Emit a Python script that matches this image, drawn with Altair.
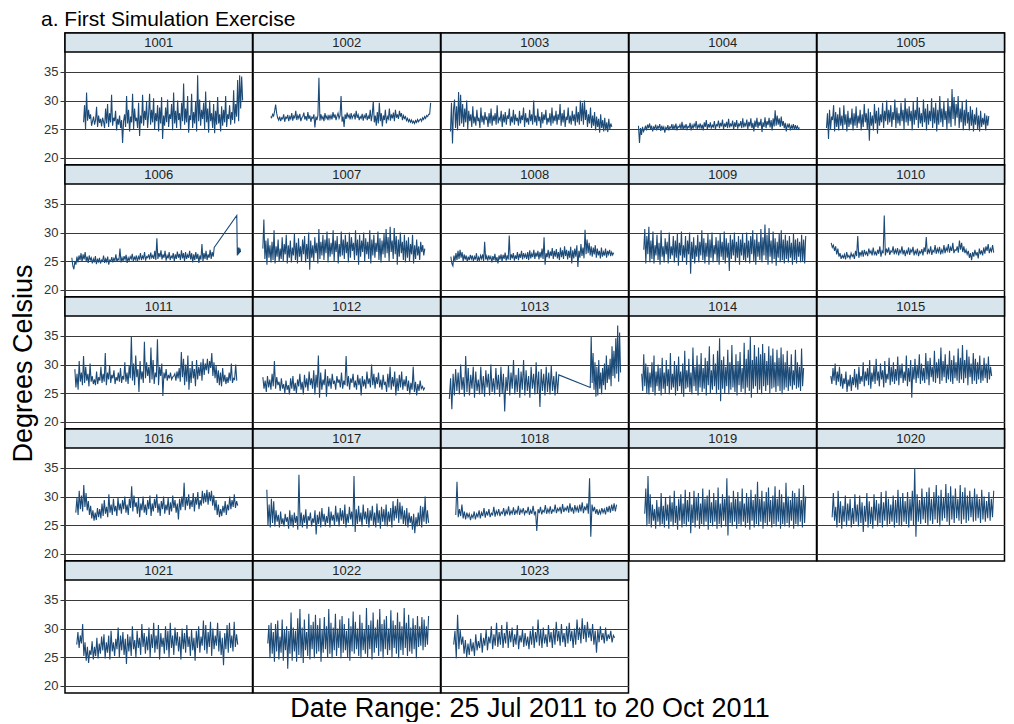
import altair as alt
import numpy as np
import pandas as pd

FONT = "Liberation Sans"
LINE = "#1d4b78"
STRIP = "#d8e5ec"
W = 187.5
H = 132
TICKS = [20, 25, 30, 35]

SENSORS = ["1001", "1002", "1003", "1004", "1005", "1006", "1007", "1008", "1009", "1010",
           "1011", "1012", "1013", "1014", "1015", "1016", "1017", "1018", "1019", "1020",
           "1021", "1022", "1023"]

T1001 = [26.2,29.2,25.0,31.4,26.5,28.4,26.8,27.6,25.6,26.4,27.2,25.8,26.6,28.9,25.4,27.4,26.1,26.8,25.5,27.0,
         26.3,25.2,28.6,26.0,29.4,25.4,27.8,26.2,31.0,25.6,27.0,26.4,28.2,24.8,26.8,25.8,27.4,25.2,26.6,22.6,
         26.4,27.6,25.4,30.8,26.0,28.4,24.6,27.2,26.2,31.2,25.0,28.6,26.4,27.0,25.2,29.6,23.8,27.4,26.0,31.0,
         25.6,28.2,26.6,29.8,25.2,27.6,31.2,25.8,28.4,26.2,30.4,25.0,27.8,26.4,29.2,24.6,28.8,26.0,30.6,23.3,
         27.4,25.6,28.8,26.2,30.2,25.4,27.6,26.8,29.4,24.8,31.4,26.0,28.2,25.2,30.0,26.6,27.8,25.0,29.6,26.4,
         33.0,25.8,28.6,26.2,30.8,24.4,27.4,26.6,31.2,25.2,28.0,26.0,29.8,24.6,34.4,26.4,30.2,25.6,28.4,26.8,
         29.6,25.0,31.6,26.2,28.6,24.4,30.0,26.4,27.8,25.2,29.4,24.3,28.2,25.8,30.6,26.0,27.6,24.6,29.0,25.6,
         28.4,26.2,30.8,25.4,27.6,26.8,29.2,25.8,28.0,26.6,31.8,26.0,29.4,27.2,33.6,26.4,34.4,28.6,34.2,30.0]
T1002 = [27.2,27.0,27.6,27.3,28.2,29.3,27.8,27.0,26.6,27.2,26.4,27.0,26.8,27.6,26.3,27.1,26.9,27.5,26.4,27.2,
         26.8,27.8,26.5,27.3,27.0,28.2,26.6,27.4,26.9,27.7,26.4,27.0,27.2,27.9,26.7,27.3,26.5,28.0,26.8,27.4,
         26.3,27.1,26.9,27.6,25.3,27.2,26.6,27.4,34.0,26.5,27.6,26.8,27.2,26.4,27.8,26.9,27.3,26.6,27.5,26.8,
         27.4,26.7,28.0,27.0,27.6,26.6,27.3,27.8,26.9,27.4,30.8,26.3,27.2,25.4,27.6,26.8,27.9,27.1,27.5,26.7,
         27.8,26.9,27.3,27.6,26.7,28.2,27.0,27.5,26.6,27.2,26.9,27.7,26.5,27.4,27.0,27.8,26.6,27.3,26.8,28.4,
         26.4,27.6,29.9,26.2,27.4,25.6,28.0,26.0,29.6,26.4,27.8,25.5,27.4,26.6,28.4,26.0,27.2,26.8,28.6,26.5,
         27.6,26.9,27.9,26.4,28.4,27.0,27.6,26.8,28.2,27.2,27.8,26.6,27.4,26.9,27.2,26.5,26.9,26.3,26.7,26.2,
         26.6,26.1,26.4,26.0,26.5,26.2,26.7,26.3,26.6,26.8,26.4,27.0,26.7,27.2,26.9,27.4,27.2,27.6,27.6,29.6]
T1003 = [24.6,29.6,22.5,28.4,30.2,25.2,29.0,24.8,31.5,25.6,31.0,26.0,29.4,25.4,28.6,26.2,30.0,25.0,28.2,26.4,
         27.6,25.4,29.0,26.0,27.2,25.6,28.4,26.4,27.0,25.2,28.8,26.2,27.4,25.8,28.0,26.6,27.2,25.4,27.8,26.0,
         28.6,25.6,27.4,26.4,27.8,25.8,29.2,26.0,27.0,26.6,28.2,25.4,27.6,26.2,28.0,25.8,27.4,26.8,28.6,25.6,
         27.2,26.2,28.4,25.8,27.6,26.4,27.0,25.6,28.2,26.0,27.4,26.6,28.8,25.4,27.8,26.2,27.0,25.8,28.4,26.4,
         27.6,25.8,30.0,26.2,27.4,25.6,28.6,26.4,27.2,25.2,28.0,26.0,27.6,26.6,28.4,25.8,27.0,26.2,27.8,25.6,
         28.8,26.0,27.4,26.4,28.2,25.8,27.6,26.6,29.4,25.6,27.8,26.2,28.4,25.4,27.2,26.6,28.8,26.0,27.4,25.8,
         28.2,26.4,27.6,25.6,29.0,26.2,28.0,25.8,30.0,26.4,29.6,25.8,30.0,26.6,28.4,25.4,27.6,26.0,28.8,25.2,
         27.4,25.6,28.0,24.8,27.2,25.4,26.8,24.4,27.6,25.2,26.6,24.6,27.0,24.8,26.2,24.5,26.8,25.0,26.0,25.4]
T1004 = [25.6,22.6,25.2,24.0,25.4,24.6,25.0,25.6,24.8,25.8,25.2,26.0,25.0,25.6,24.6,25.4,25.1,25.8,24.8,25.5,
         25.2,25.9,24.7,25.6,25.0,25.4,24.4,25.3,25.0,25.7,24.8,25.4,25.2,25.9,24.9,25.6,25.1,26.0,24.8,25.5,
         25.3,25.8,25.0,26.3,24.9,25.6,25.2,25.9,25.0,25.5,25.3,26.1,24.8,25.7,25.2,25.9,25.4,26.4,25.0,25.7,
         25.3,26.0,25.1,25.8,24.8,26.2,25.4,26.6,25.0,25.9,25.3,26.2,25.1,25.7,25.4,26.4,25.0,25.8,25.6,26.5,
         25.2,26.1,25.5,26.7,25.0,26.0,25.4,26.3,25.2,26.8,25.3,25.9,25.6,26.5,24.9,26.2,25.4,26.6,25.1,25.9,
         25.6,26.4,25.2,26.9,25.3,26.0,25.6,26.7,25.0,26.3,25.5,26.9,25.2,26.1,24.6,26.5,25.4,27.0,25.2,26.3,
         25.6,26.8,24.5,26.2,25.4,27.1,25.2,26.4,25.7,27.0,25.3,26.6,24.8,26.9,25.5,28.3,25.6,27.4,25.8,26.9,
         25.4,27.2,25.6,26.4,25.2,26.1,24.6,25.8,25.4,26.0,24.8,25.6,25.2,25.9,24.9,25.7,25.1,25.5,25.0,25.3]
T1005 = [25.2,27.8,23.3,28.4,25.0,27.2,26.6,29.2,24.6,28.0,25.4,27.6,24.8,28.8,25.6,27.4,25.0,29.2,25.8,27.6,
         24.6,28.2,25.4,27.0,25.8,28.6,24.8,27.8,25.6,29.0,25.2,27.4,26.0,28.4,24.8,27.6,25.4,29.4,26.2,27.8,
         25.0,28.6,23.0,28.0,25.6,27.4,24.8,29.4,26.0,28.2,24.2,28.8,25.6,27.6,26.2,29.6,25.2,28.2,26.4,30.0,
         25.8,28.4,26.2,29.2,25.4,28.0,26.6,30.2,25.2,28.8,26.0,27.8,25.6,29.6,26.4,28.4,25.0,30.4,26.2,28.6,
         25.6,29.0,26.4,28.2,24.8,29.8,25.8,28.4,26.6,30.6,25.2,28.8,26.0,27.8,25.4,30.2,26.2,28.6,24.8,29.4,
         25.8,28.2,26.4,30.4,25.2,28.8,26.0,29.6,24.6,28.4,25.8,30.8,26.2,28.6,25.4,29.8,26.6,28.2,25.0,30.4,
         26.0,29.0,25.4,32.0,26.8,30.6,25.6,29.4,27.0,30.8,25.2,28.6,26.2,29.8,24.8,28.4,25.6,30.2,26.0,28.0,
         24.8,29.0,25.6,28.4,24.6,27.6,25.8,28.8,25.0,27.4,24.6,28.2,25.4,27.0,25.8,27.8,24.8,27.4,25.6,27.3]
T1006A = [25.6,24.2,23.6,25.0,24.4,25.8,24.8,26.0,25.2,26.4,24.9,26.2,25.3,26.6,25.0,25.8,24.7,26.0,25.2,25.6,
          24.6,25.4,24.8,25.9,24.5,25.3,24.9,25.6,24.6,25.2,25.0,26.0,24.7,25.4,24.9,25.8,24.4,25.2,25.0,25.7,
          24.8,25.5,25.1,26.2,24.9,25.4,25.2,27.2,24.8,25.6,25.0,25.9,25.3,26.1,24.7,25.6,25.1,25.8,25.4,26.3,
          25.0,25.7,25.3,26.0,24.9,25.8,25.4,26.4,25.2,25.9,25.5,26.6,25.1,25.8,25.6,26.2,25.3,26.5,25.6,26.0,
          25.4,26.8,25.2,29.0,25.4,26.4,25.7,26.9,25.3,26.2,25.6,26.8,25.1,26.0,25.5,26.6,25.2,25.9,25.6,26.4,
          25.0,26.2,25.4,26.7,25.6,26.3,25.2,26.9,25.5,26.4,25.0,26.6,25.4,26.1,25.6,26.8,25.3,26.4,24.8,26.2,
          25.2,26.6,25.4,26.3,24.7,26.0,25.3,28.0,25.0,26.4,25.4,26.8,25.2,26.2,25.6,27.0,25.4,26.6,25.8,27.4]
T1006B = [33.0,26.0,27.4,26.2,27.4,26.4,27.2,26.6]
T1007 = [27.2,32.3,25.4,28.6,24.4,29.0,25.6,27.8,24.8,28.4,25.2,30.4,24.6,27.6,25.8,28.8,24.9,27.2,25.4,29.2,
         25.0,28.0,26.2,29.6,24.6,27.8,25.6,28.6,24.8,27.4,26.0,29.8,25.2,28.2,24.6,29.0,25.8,27.6,25.0,28.8,
         26.2,29.4,24.8,28.0,25.4,30.0,23.5,28.6,25.6,27.8,25.0,29.2,26.4,28.2,24.6,30.6,25.4,28.4,26.0,29.6,
         25.2,28.8,26.4,30.2,24.8,29.0,25.8,28.2,26.2,30.4,25.0,28.6,26.6,29.4,24.6,28.0,25.8,30.2,26.0,28.8,
         25.4,29.6,26.4,28.4,24.8,30.0,25.6,29.2,26.8,28.2,25.2,30.4,26.0,28.8,24.4,29.6,25.8,28.6,26.6,30.0,
         25.0,29.0,26.2,28.4,25.4,30.4,24.6,28.8,26.0,29.6,25.6,28.2,26.6,30.2,25.2,29.0,24.8,28.6,26.2,29.8,
         25.6,30.6,26.4,29.2,25.0,31.0,26.6,28.6,25.4,30.8,26.2,29.4,24.4,28.8,25.8,30.0,26.4,28.4,25.2,29.6,
         24.8,28.6,25.6,29.2,25.0,28.0,26.2,29.6,24.6,27.8,25.4,28.8,26.0,27.6,25.2,28.4,26.6,27.8,26.0,27.2]
T1008 = [25.8,24.6,24.2,26.0,25.0,26.4,25.2,26.8,25.4,27.0,25.6,26.6,25.0,26.2,25.3,26.0,24.9,25.8,25.2,26.1,
         25.4,26.0,25.0,25.8,25.3,26.4,24.9,25.7,25.2,26.0,25.4,26.2,25.0,28.4,25.3,25.9,25.1,26.0,25.4,25.8,
         24.8,25.9,25.2,26.3,25.0,25.7,24.6,26.0,25.3,26.2,25.0,26.1,25.4,26.5,25.1,26.0,25.3,29.5,25.2,26.2,
         25.5,26.4,25.1,26.0,25.4,26.6,25.2,26.3,25.6,26.8,25.3,26.4,25.7,26.2,25.4,26.6,25.2,26.9,25.5,26.3,
         25.7,27.0,25.4,26.5,25.8,26.8,25.3,26.6,25.6,27.2,25.4,29.2,24.4,26.4,25.7,27.0,25.5,26.7,25.9,27.3,
         25.4,26.8,25.8,27.1,25.5,26.6,25.2,27.4,25.7,26.9,25.4,27.6,25.9,27.0,25.3,26.8,25.6,27.5,24.6,26.9,
         25.5,27.2,25.8,27.8,24.0,26.8,25.6,28.0,25.9,27.4,25.5,30.5,26.2,28.8,26.4,28.2,26.0,27.6,25.8,27.4,
         26.2,27.8,25.6,27.2,26.0,26.8,25.5,27.4,25.8,26.6,26.0,27.2,25.6,26.8,26.2,27.0,25.9,26.6,26.1,26.5]
T1009 = [27.0,30.6,24.6,29.4,26.2,31.0,24.8,28.6,25.4,30.2,24.6,27.8,26.0,29.6,25.2,28.2,24.4,30.4,25.8,27.6,
         24.8,29.0,26.2,28.4,24.6,30.0,25.4,27.6,26.0,29.4,24.8,28.6,25.6,29.8,24.2,28.2,26.0,30.2,25.0,27.8,
         25.6,29.4,24.4,28.6,26.2,30.0,22.8,28.4,25.4,29.2,24.6,27.8,25.8,29.6,24.8,28.4,26.0,30.4,25.2,29.0,
         24.6,28.2,25.8,29.8,24.4,28.8,25.6,30.0,24.8,27.8,26.2,29.2,25.0,28.6,24.4,29.8,25.8,28.4,25.2,30.2,
         24.6,29.0,25.6,28.2,23.3,29.6,25.4,28.8,26.0,30.0,24.8,28.4,25.6,29.4,24.4,28.8,26.0,29.8,25.2,28.2,
         24.8,30.0,25.6,28.6,24.6,29.4,26.2,30.4,25.0,28.8,24.4,29.8,25.8,28.4,25.2,30.6,24.8,29.2,26.0,31.4,
         25.2,29.6,24.4,30.8,25.8,28.6,24.6,30.2,25.4,29.0,24.2,28.4,25.6,29.8,24.8,30.4,25.2,28.8,24.6,29.6,
         25.4,28.6,24.8,29.4,25.6,28.2,24.4,29.8,25.2,28.8,24.6,29.0,25.8,28.4,24.8,29.6,25.0,28.8,24.6,29.4]
T1010 = [28.2,27.4,27.8,26.8,27.6,26.2,27.2,25.8,26.4,25.4,26.0,25.6,26.2,25.3,26.6,25.7,26.0,25.5,26.4,25.8,
         26.2,25.4,26.8,25.9,29.4,25.6,26.6,26.0,26.9,25.8,27.0,26.2,26.6,25.9,27.2,26.4,26.8,26.0,27.4,26.2,
         26.6,26.0,27.0,26.3,27.6,25.8,26.8,26.4,33.0,26.0,27.2,26.5,27.4,26.1,26.8,26.6,27.6,26.2,27.0,26.4,
         27.3,26.0,26.9,26.5,27.6,26.2,27.0,25.9,26.8,26.4,27.4,26.1,27.0,26.6,27.5,26.0,26.8,26.3,27.2,25.9,
         26.7,26.4,27.1,26.0,27.4,26.6,29.2,26.2,27.0,26.5,27.6,26.1,26.9,26.6,27.8,26.3,27.2,26.6,27.5,26.2,
         27.0,26.5,27.8,26.4,27.3,26.8,28.0,26.5,27.4,26.8,28.2,26.4,27.0,26.9,27.6,26.5,28.6,27.0,28.2,26.6,
         27.6,26.4,27.0,26.2,26.8,25.6,26.4,25.2,26.6,25.8,27.0,26.0,26.6,25.5,27.2,26.2,26.9,26.0,27.4,26.3,
         27.6,26.8,28.0,26.4,27.2,26.7,27.8,26.5]
T1011 = [29.2,26.0,28.4,25.6,30.6,27.0,28.6,26.4,31.5,26.8,29.6,27.2,28.4,26.2,30.2,27.0,28.0,26.6,27.4,26.4,
         28.8,26.6,27.8,27.2,29.6,26.8,28.4,27.0,32.0,26.4,28.6,27.4,29.8,26.8,28.2,27.6,29.0,26.6,27.8,27.2,
         28.6,27.0,29.4,26.8,28.0,27.4,30.4,27.0,28.6,26.6,29.8,27.6,35.0,27.2,30.2,26.4,31.6,27.8,29.2,25.2,
         30.6,27.4,28.8,26.8,34.0,27.6,30.4,28.0,29.6,26.8,33.0,27.4,30.8,26.6,28.6,27.8,34.4,26.4,29.6,28.0,
         30.2,24.5,28.6,27.6,29.2,27.2,28.2,27.6,28.6,27.4,27.8,28.0,28.4,27.2,28.8,27.6,29.4,27.0,32.2,27.8,
         31.0,26.4,30.0,27.0,31.6,25.6,29.4,26.8,30.6,27.6,29.2,26.2,30.8,27.4,29.6,28.0,30.4,27.2,31.0,28.2,
         30.2,29.0,31.0,28.4,30.6,29.4,32.0,28.0,30.4,27.6,29.8,26.8,29.0,26.4,28.6,26.2,29.4,27.0,28.2,26.6,
         27.8,26.8,28.6,27.2,30.2,26.8,27.6,27.4,30.0,27.2]
T1012 = [27.8,25.8,27.2,25.2,28.0,26.0,27.4,25.6,28.4,26.2,30.6,25.8,27.8,26.4,27.0,25.4,27.6,25.8,26.6,25.0,
         27.2,25.6,26.4,24.8,27.6,25.8,28.0,25.4,26.8,25.0,27.4,26.2,28.4,25.6,27.0,24.8,28.2,26.0,27.6,25.4,
         28.8,26.4,27.6,25.8,29.0,24.8,28.2,26.0,31.6,24.2,28.6,25.6,27.4,26.4,29.2,24.4,28.0,26.2,27.6,25.8,
         28.4,26.6,27.2,25.6,28.0,26.8,27.4,26.0,28.6,25.8,27.2,26.4,31.5,26.2,28.0,25.6,27.6,26.8,28.4,26.0,
         27.2,25.6,28.2,26.4,27.6,24.6,28.0,26.2,27.4,25.8,28.8,26.6,27.6,26.0,30.0,26.4,28.4,25.8,27.8,26.6,
         28.6,26.0,27.4,25.6,28.2,26.4,27.0,25.2,28.4,26.0,29.6,25.6,27.8,26.2,28.8,24.6,27.6,25.4,28.2,26.0,
         28.8,25.6,27.4,26.2,28.0,25.4,27.2,24.8,26.8,25.6,29.6,25.2,27.0,24.6,26.6,25.4,27.2,25.8,26.2,25.6,
         26.0]
T1013A = [24.0,27.6,22.2,28.4,24.6,29.2,25.4,28.6,24.8,30.0,25.6,27.8,24.4,31.5,25.2,29.4,24.6,28.2,25.8,29.6,
          24.2,28.8,25.4,27.4,24.8,29.6,25.0,28.0,24.4,29.0,26.0,28.4,24.6,30.0,25.2,27.6,24.8,29.4,25.6,28.2,
          24.4,29.6,25.0,28.4,21.8,27.8,25.4,29.8,24.6,28.6,25.8,30.8,24.8,28.2,25.2,29.4,24.2,28.8,25.6,30.8,
          24.6,29.0,25.4,28.0,24.2,29.6,25.8,28.4,24.8,30.4,25.0,28.8,22.6,29.2,25.4,28.4,24.6,29.6,25.2,28.6,
          24.8,29.8,25.4,28.0,24.6,28.8,25.0,28.2]
T1013B = [26.0,35.0,26.8,32.0,25.6,30.4,24.4,29.6,24.6,30.8,25.8,28.6,24.8,29.4,26.4,30.2,25.6,31.6,26.8,29.8,
          27.4,31.0,26.2,33.2,28.0,32.4,27.6,34.6,28.4,36.8,27.0,35.6,28.6]
T1014 = [28.4,25.4,31.8,26.2,30.2,25.0,29.6,24.8,28.6,26.0,30.4,25.2,31.6,24.6,28.8,26.2,30.0,25.4,29.4,24.6,
         31.2,25.8,28.6,25.0,30.8,26.2,29.2,24.8,32.0,25.6,28.4,26.0,30.6,24.6,29.8,25.4,31.4,26.2,28.8,25.0,
         30.2,24.4,32.4,25.8,29.0,26.0,31.0,25.2,28.6,24.8,33.0,26.2,29.6,25.4,31.6,24.6,30.0,26.0,32.0,25.2,
         29.4,25.8,31.2,24.6,30.6,26.4,33.2,25.0,29.0,25.6,31.8,26.2,30.2,24.8,32.4,25.6,34.6,23.6,30.8,25.8,
         31.4,25.0,29.6,26.2,32.6,24.8,30.4,25.6,33.4,26.0,29.8,25.2,31.8,24.6,30.6,26.4,32.2,25.2,29.4,25.8,
         33.8,24.8,31.0,26.0,32.6,25.4,34.8,24.2,30.8,25.8,33.4,26.2,31.4,25.0,33.0,25.6,31.8,24.8,33.6,26.2,
         32.0,25.4,30.6,26.4,33.2,25.0,31.6,25.8,32.8,26.0,30.4,25.2,32.6,26.2,31.2,25.4,33.0,24.8,31.8,25.6,
         30.4,26.0,32.4,25.4,29.6,26.2,31.8,25.6,29.0,26.4,32.6,25.8,30.4,26.0,29.6,25.4,32.8,26.2,29.4]
T1015 = [28.0,26.6,29.4,27.2,30.2,26.4,28.8,27.0,29.6,26.2,28.4,25.8,27.6,26.6,28.8,25.2,27.4,26.2,28.2,25.4,
         27.8,26.4,29.2,26.0,28.4,25.6,29.6,26.6,28.0,27.0,30.4,26.2,28.8,27.2,29.4,26.4,30.8,25.8,28.6,27.0,
         29.8,26.6,31.0,27.2,28.8,26.2,30.2,27.4,29.0,26.0,30.6,26.8,28.4,27.4,31.2,26.4,29.6,27.0,30.4,26.6,
         29.2,27.2,31.4,26.4,29.8,27.6,30.2,26.8,28.8,27.2,31.6,26.2,29.4,27.0,30.8,24.2,29.6,27.4,31.0,26.8,
         29.8,27.6,31.8,26.6,30.2,27.2,29.4,26.8,32.0,27.4,30.6,26.4,31.2,27.8,29.6,27.0,32.4,26.8,30.4,27.6,
         31.0,26.6,33.0,27.2,30.6,27.8,31.8,26.8,30.0,27.4,32.4,27.0,30.8,26.6,31.6,27.6,30.4,27.2,32.8,26.8,
         31.2,27.4,33.4,26.8,30.8,27.6,32.6,26.4,31.4,27.8,30.2,26.6,32.0,27.2,31.0,26.6,30.4,27.4,31.6,26.8,
         29.8,27.2,31.2,27.6,30.2,26.8,31.4,27.4,29.6,28.0]
T1016 = [27.2,29.8,26.8,31.0,27.8,30.2,27.4,32.0,28.2,30.6,27.6,29.2,26.8,28.4,26.2,27.6,25.8,27.2,25.9,28.0,
         26.4,27.8,26.2,28.8,26.6,29.4,27.0,28.2,26.4,30.4,27.2,28.6,26.8,29.6,27.4,28.4,26.6,29.8,27.6,28.8,
         27.0,29.4,27.8,30.0,27.2,28.6,26.8,29.6,28.0,31.8,27.4,30.2,28.2,29.0,27.0,29.8,26.4,28.8,27.6,30.0,
         27.2,28.6,26.8,29.4,27.8,30.2,26.6,28.8,27.4,29.6,28.0,30.4,27.2,28.8,26.6,29.2,27.8,30.0,27.0,28.6,
         27.6,29.8,26.8,29.0,27.4,30.2,28.0,29.4,27.2,28.8,26.0,29.6,27.6,30.0,28.2,32.4,27.6,29.8,28.4,30.4,
         27.8,29.4,28.2,30.6,27.4,29.8,28.6,30.8,27.8,29.4,28.4,31.0,28.8,30.6,29.0,31.2,28.6,30.8,29.2,31.0,
         28.4,30.2,27.6,29.4,26.8,28.6,26.4,27.8,26.6,28.4,27.2,29.2,26.8,28.6,27.6,30.0,27.8,29.4,28.2,30.4,
         28.0,29.2,28.4]
T1017 = [31.2,25.0,28.6,24.6,29.6,25.4,29.2,24.8,27.6,25.6,26.8,24.6,27.4,25.2,26.2,24.8,27.0,25.6,26.4,24.4,
         27.6,25.0,26.8,24.6,27.2,25.4,26.6,24.2,33.8,25.0,27.2,24.6,26.8,25.4,27.8,24.4,26.6,25.8,27.2,24.8,
         26.2,25.4,27.6,23.4,26.8,25.2,27.4,24.6,28.0,25.6,27.0,24.8,26.6,25.4,28.2,24.6,27.4,25.8,26.8,25.0,
         28.4,25.6,27.2,24.8,28.0,25.8,27.6,25.2,28.6,24.6,27.0,25.4,28.2,26.0,27.4,24.8,33.6,23.8,27.8,25.2,
         28.4,25.6,27.2,24.8,28.6,26.0,27.4,25.2,28.0,24.6,27.6,25.8,28.4,25.0,27.2,24.6,28.8,25.4,27.6,24.4,
         28.2,25.6,27.8,25.0,28.6,24.8,27.4,25.6,28.0,24.6,29.2,25.8,28.4,26.2,29.6,25.4,29.0,26.0,28.4,25.2,
         27.6,25.0,28.0,24.6,27.2,25.4,26.6,24.2,27.0,23.6,26.4,24.8,27.2,25.0,28.4,24.6,28.2,25.6,30.0,25.2,
         27.6,25.4]
T1018 = [26.8,32.6,26.4,27.8,26.6,28.6,26.2,27.4,26.0,27.2,26.4,27.0,25.9,26.8,26.3,27.4,26.0,27.0,26.5,27.6,
         26.2,27.2,26.6,28.0,26.3,27.4,26.7,27.8,26.4,27.1,26.8,28.2,26.5,27.5,26.9,27.8,26.6,27.3,27.0,28.0,
         26.6,27.6,26.9,28.3,26.7,27.5,27.0,28.1,26.8,27.6,27.1,28.4,26.8,27.7,27.2,28.0,26.9,27.5,27.2,28.2,
         26.8,27.6,27.0,28.4,26.9,27.4,24.0,27.8,27.1,28.2,26.9,27.6,27.3,28.5,27.0,27.8,27.2,28.3,27.0,27.7,
         27.4,28.6,27.1,27.9,27.5,28.2,27.0,28.7,27.3,28.0,27.6,28.4,27.2,28.8,27.4,28.1,27.0,28.5,27.5,28.2,
         27.2,28.6,27.4,29.0,27.1,28.3,27.6,28.8,27.0,33.2,23.0,28.6,27.4,28.2,27.0,27.8,26.8,27.6,27.0,28.0,
         27.2,27.8,26.9,28.2,27.3,28.4,27.2,28.6,27.5,28.8,27.4,28.6]
T1019 = [27.0,31.4,24.8,33.6,25.2,30.4,24.6,28.6,25.8,27.8,24.4,29.4,25.6,28.2,24.8,30.6,25.2,28.4,24.6,29.8,
         25.8,28.6,24.4,30.2,25.6,29.0,24.8,31.0,25.4,28.4,24.2,29.6,25.8,30.4,24.6,28.8,25.2,31.2,24.8,29.4,
         25.6,30.8,23.6,28.6,25.4,31.0,24.6,29.8,25.8,30.6,24.4,28.8,25.2,31.4,24.8,29.6,25.6,30.2,24.2,31.2,
         25.4,29.0,24.8,30.6,25.6,29.4,24.4,31.6,25.2,28.8,24.6,30.4,25.8,29.6,24.8,33.2,23.2,30.2,25.4,29.0,
         24.8,31.0,25.6,29.6,24.4,30.8,25.2,29.2,24.8,31.4,25.6,28.8,24.6,30.6,25.4,29.8,24.2,31.2,25.8,29.4,
         24.6,30.4,25.2,32.6,24.8,29.6,25.6,31.0,24.4,29.2,25.4,30.8,24.8,31.6,25.6,29.4,24.6,30.2,25.2,31.8,
         24.8,29.6,25.6,31.2,24.4,30.4,25.2,29.0,24.8,32.4,25.4,30.0,24.6,29.4,25.8,31.0,24.4,30.6,25.2,29.8,
         24.8,31.4,25.6,29.4,24.6,32.0,25.4,30.0]
T1020 = [26.4,30.6,25.8,28.2,24.6,31.0,25.4,29.2,24.4,28.4,25.6,30.2,24.8,28.8,25.8,29.6,24.6,28.0,25.2,30.4,
         25.6,28.6,24.8,30.2,25.4,29.0,23.8,28.4,25.6,30.6,24.6,29.2,25.2,28.2,24.4,30.4,25.8,29.4,24.8,28.8,
         25.4,30.8,24.6,29.0,25.8,31.0,24.8,29.6,25.2,28.6,25.6,30.2,24.6,29.4,25.4,31.2,25.0,29.8,24.8,30.6,
         25.6,29.2,25.2,30.8,24.6,29.6,25.8,31.0,25.0,35.0,23.0,30.4,25.6,29.4,25.2,31.4,26.0,29.8,25.4,30.8,
         25.0,31.6,25.8,29.6,25.2,30.8,26.0,32.0,25.4,30.2,24.8,31.2,25.8,29.8,26.2,32.2,25.6,30.6,25.0,31.8,
         26.0,30.2,25.4,31.4,26.2,29.6,25.8,32.0,25.2,30.8,26.0,31.6,25.4,30.2,25.8,31.0,26.4,29.8,25.6,31.4,
         25.8,30.4,26.2,29.6,25.4,31.2,26.0,30.0,25.6,29.2,26.2,30.8,25.8,29.6,26.4,31.0]
T1021 = [27.2,29.4,26.6,28.8,27.4,30.8,25.2,27.6,24.4,26.8,24.0,26.2,25.4,27.8,24.6,26.8,25.2,28.4,24.8,27.4,
         25.6,28.6,26.2,29.0,24.8,27.6,25.8,28.8,24.6,29.6,26.0,27.6,25.2,28.2,26.4,30.2,25.0,28.8,26.2,29.4,
         25.4,28.2,23.8,29.0,26.0,28.6,25.2,30.4,26.4,28.0,25.0,29.6,26.6,28.4,25.4,30.8,26.8,29.2,25.6,28.6,
         26.2,30.2,25.0,29.0,26.6,31.0,25.8,28.8,26.4,30.6,24.6,29.2,26.8,28.4,25.6,30.4,26.2,29.6,25.0,31.0,
         26.6,28.8,25.4,30.2,27.0,29.4,26.0,28.6,24.6,30.0,26.4,29.2,25.8,30.6,26.8,28.6,25.2,29.8,26.2,28.4,
         24.4,29.6,26.6,30.4,25.8,28.6,27.0,31.4,26.2,30.6,25.6,29.4,26.8,31.2,25.2,30.0,26.4,28.8,27.0,31.0,
         26.0,29.6,25.4,28.4,23.6,29.2,26.4,30.6,25.8,31.0,26.6,28.8,26.0,31.2,26.8,29.0,27.2]
T1022 = [27.4,30.6,24.8,31.0,25.6,29.4,24.2,30.8,26.0,31.4,24.6,28.6,25.8,31.6,24.4,29.8,26.2,30.4,23.0,29.6,
         25.6,32.8,24.4,30.2,26.0,29.6,24.2,31.8,25.4,33.4,25.0,30.2,24.0,31.6,26.2,29.4,25.2,32.6,24.6,30.6,
         26.4,31.2,24.8,32.4,25.6,30.6,26.0,31.8,24.2,29.8,25.8,32.0,26.4,30.4,25.0,33.4,25.6,31.0,24.8,30.2,
         26.2,32.6,25.2,30.0,26.6,31.6,24.8,32.2,25.8,30.8,26.2,29.6,25.0,31.8,24.4,30.4,26.0,33.0,25.6,31.2,
         26.4,30.0,25.2,32.4,24.8,31.0,26.2,29.8,25.6,33.6,25.0,30.6,26.4,31.4,24.6,32.8,25.8,30.2,26.6,31.6,
         25.2,33.4,26.0,30.8,24.8,31.6,26.4,32.2,25.4,30.0,26.2,33.2,25.0,31.4,26.6,30.6,25.6,32.8,24.8,31.2,
         26.2,30.4,25.4,33.6,26.6,31.0,25.2,32.4,26.0,30.2,25.6,31.8,26.4,30.6,24.8,32.2,26.8,30.4,27.0,32.0,
         26.2,31.6,26.8,30.4,27.2,32.2]
T1023 = [27.2,29.6,24.8,32.4,26.4,29.8,27.2,28.6,25.6,28.0,25.0,27.4,25.4,28.2,26.0,27.6,25.2,29.0,26.2,27.8,
         26.6,29.2,25.8,28.4,27.0,29.8,26.2,28.6,27.4,30.4,26.4,29.0,27.0,31.0,26.8,29.4,27.2,30.6,26.6,29.2,
         27.4,31.2,26.6,29.6,27.6,30.2,26.8,29.0,27.2,30.6,26.4,28.8,27.6,29.8,26.8,29.2,27.0,28.6,26.4,29.6,
         27.2,30.4,26.6,29.4,27.6,31.6,27.0,29.8,26.6,30.2,27.4,29.0,26.8,30.6,27.6,29.4,26.6,30.0,27.2,31.2,
         27.8,29.6,27.0,30.8,27.6,29.2,26.8,30.4,27.4,31.0,27.8,29.6,26.6,30.0,27.2,31.6,28.0,30.2,27.4,31.8,
         28.2,30.6,27.6,31.2,28.4,30.0,27.8,30.8,27.2,29.6,25.8,29.8,27.6,30.4,28.0,29.2,27.4,30.2,27.8,29.0,
         28.2,29.6,27.6,28.8,28.4]

# recording windows (days after 25 Jul 2011) of each logger segment
SEGMENTS = {
    "1001": [(4.8, 88.8, T1001)], "1002": [(4.3, 88.8, T1002)], "1003": [(0.0, 85.2, T1003)],
    "1004": [(0.0, 85.0, T1004)], "1005": [(0.0, 85.7, T1005)],
    "1006": [(-1.4, 73.8, T1006A), (85.7, 87.7, T1006B)],
    "1007": [(0.2, 85.7, T1007)], "1008": [(0.2, 86.2, T1008)], "1009": [(2.8, 88.3, T1009)],
    "1010": [(2.5, 88.3, T1010)], "1011": [(0.2, 85.7, T1011)], "1012": [(0.2, 85.7, T1012)],
    "1013": [(-0.6, 57.2, T1013A), (73.8, 89.8, T1013B)],
    "1014": [(1.7, 87.2, T1014)], "1015": [(2.3, 87.2, T1015)], "1016": [(0.7, 86.2, T1016)],
    "1017": [(2.3, 87.7, T1017)], "1018": [(2.8, 87.7, T1018)], "1019": [(3.3, 88.3, T1019)],
    "1020": [(3.0, 88.3, T1020)], "1021": [(1.2, 86.2, T1021)], "1022": [(2.8, 87.7, T1022)],
    "1023": [(1.7, 86.7, T1023)],
}

XDOM = [-5, 94]
YDOM = [18.75, 41.8]


def panel(i, sid):
    col, row = i % 5, i // 5
    recs = []
    for a, b, vals in SEGMENTS[sid]:
        for d, v in zip(np.linspace(a, b, len(vals)), vals):
            recs.append({"day": float(d), "temp": v})
    df = pd.DataFrame(recs)
    first = col == 0
    ykw = dict(values=TICKS, grid=True, domain=False, labels=first, ticks=first,
               tickSize=5, labelPadding=2, title=None)
    if first and row == 2:
        ykw.update(title="Degrees Celsius", titleFontSize=27, titleFontWeight="normal",
                   titleColor="black", titlePadding=6, titleFont=FONT)
    if sid == "1022":
        xaxis = alt.Axis(labels=False, ticks=False, domain=False, grid=False,
                         title="Date Range: 25 Jul 2011 to 20 Oct 2011", titleFontSize=27,
                         titleFontWeight="normal", titleColor="black", titleFont=FONT,
                         titleX=276.5, titleY=23, titleBaseline="alphabetic", titleAlign="center")
        xenc = alt.X("day:Q", scale=alt.Scale(domain=XDOM, nice=False, zero=False), axis=xaxis)
    else:
        xenc = alt.X("day:Q", scale=alt.Scale(domain=XDOM, nice=False, zero=False), axis=None)
    line = alt.Chart(df).mark_line(color=LINE, strokeWidth=1.1).encode(
        x=xenc,
        y=alt.Y("temp:Q", scale=alt.Scale(domain=YDOM, nice=False, zero=False), axis=alt.Axis(**ykw)),
    )
    sdf = pd.DataFrame({"sensor": [sid]})
    strip = alt.Chart(sdf).mark_rect(fill=STRIP, stroke="black", strokeWidth=1.5).encode(
        x=alt.value(0), x2=alt.value(W), y=alt.value(0), y2=alt.value(19))
    label = alt.Chart(sdf).mark_text(font=FONT, fontSize=13, color="#222", baseline="middle").encode(
        x=alt.value(W / 2), y=alt.value(10), text="sensor:N")
    return alt.layer(line, strip, label).properties(width=W, height=H)


panels = [panel(i, s) for i, s in enumerate(SENSORS)]

chart = alt.concat(
    *panels, columns=5, spacing=0, bounds="flush", padding=0,
    title=alt.TitleParams("a. First Simulation Exercise", anchor="start", frame="group",
                          fontSize=21, fontWeight="normal", font=FONT, color="black",
                          offset=2, dx=-24),
).configure_view(stroke="black", strokeWidth=1.5).configure_axis(
    gridColor="#3a3a3a", gridWidth=1.2, gridOpacity=1, tickColor="#333",
    labelFont=FONT, labelFontSize=13, labelColor="#333",
)

chart.save("out.html", embed_options={"renderer": "svg", "actions": False})
